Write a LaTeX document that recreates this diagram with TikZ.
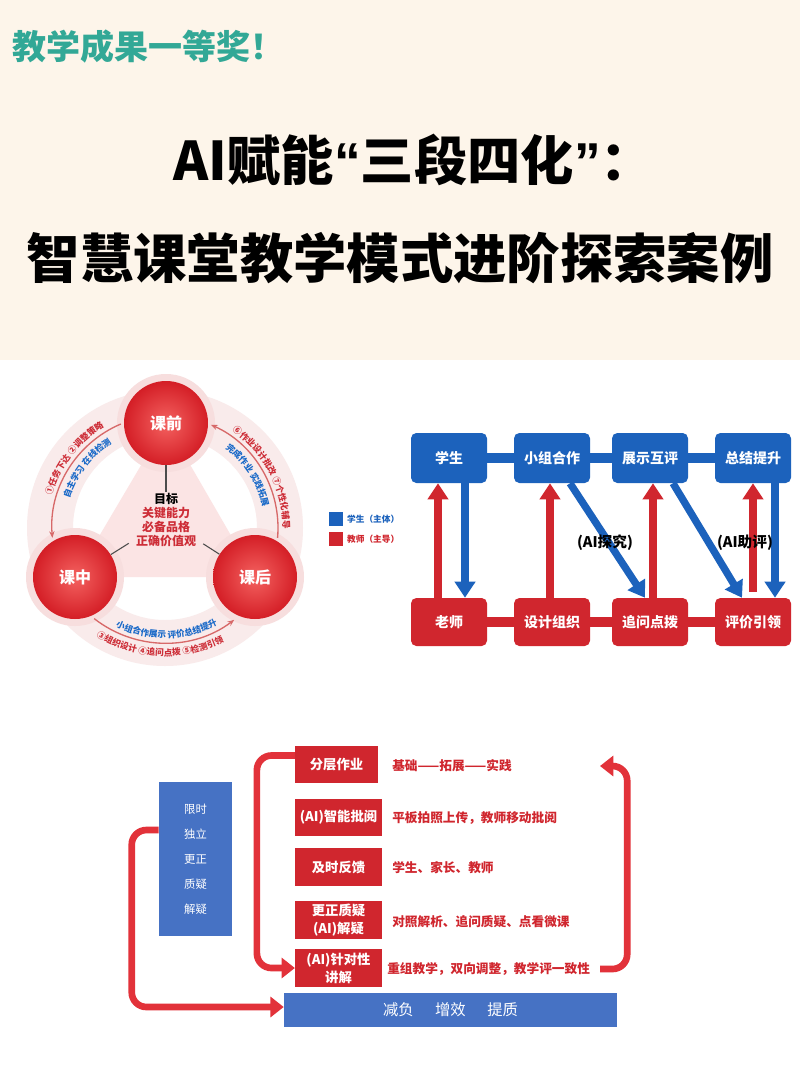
\documentclass[tikz,border=0pt]{standalone}
\usepackage{fontspec}
\setmainfont{Noto Sans CJK SC}
\newfontfamily\quotefont{Liberation Sans}
\usetikzlibrary{arrows.meta,positioning,calc,decorations.text}
\definecolor{creamcol}{RGB}{253,245,234}
\definecolor{tealcol}{RGB}{50,168,150}
\definecolor{stucol}{RGB}{28,98,188}
\definecolor{tchcol}{RGB}{208,38,46}
\definecolor{barcol}{RGB}{70,114,196}
\definecolor{loopcol}{RGB}{226,50,58}
\definecolor{ringcol}{RGB}{249,235,235}
\definecolor{tricol}{RGB}{251,228,228}
\definecolor{glowcol}{RGB}{247,222,222}
\definecolor{ballin}{RGB}{244,98,96}
\definecolor{ballout}{RGB}{212,30,38}
\definecolor{arcred}{RGB}{205,45,55}
\definecolor{arcblue}{RGB}{25,105,200}
\definecolor{arccol}{RGB}{215,105,105}
\newcommand\arcfont{\fontsize{6.5}{7}\selectfont\bfseries}

\begin{document}
\begin{tikzpicture}[x=0.75pt, y=-0.75pt,
    ball/.style={circle, minimum size=63pt, inner sep=0pt, inner color=ballin, outer color=ballout, text=white, font=\fontsize{12}{14}\selectfont\bfseries},
    goalline/.style={draw=black!70, line width=0.8pt},
    arcarrow/.style={draw=arccol, line width=1pt, -{Stealth[length=5pt, width=4pt]}},
    tbox/.style={rectangle, rounded corners=4pt, minimum width=57pt, minimum height=37.5pt, fill=stucol, text=white, font=\fontsize{10.5}{12}\selectfont\bfseries},
    bbox/.style={tbox, fill=tchcol, minimum height=36pt},
    hbar/.style={line width=7.5pt},
    fatarrow/.style={line width=5.5pt, -{Triangle[length=12pt, width=15pt]}},
    ailabel/.style={font=\fontsize{11}{13}\selectfont\bfseries},
    legsq/.style={rectangle, minimum size=10pt, inner sep=0pt},
    legtext/.style={font=\fontsize{6.5}{8}\selectfont\bfseries, inner sep=1pt},
    rbox/.style={rectangle, fill=tchcol, text=white, minimum width=65pt, minimum height=28pt, inner sep=1pt, align=center, font=\fontsize{10}{13.5}\selectfont\bfseries},
    rtext/.style={anchor=west, inner sep=0pt, text=tchcol, font=\fontsize{9.5}{11}\selectfont\bfseries},
    loopline/.style={draw=loopcol, line width=5pt, rounded corners=11pt, -{Triangle[length=10pt, width=15pt]}},
]
\useasboundingbox (0,0) rectangle (800,1067);
\fill[white] (0,0) rectangle (800,1067);
\fill[creamcol] (0,0) rectangle (800,360);

% title
\node[anchor=west, text=tealcol, font=\fontsize{25.5}{27}\selectfont\bfseries] (award) at (8,47) {教学成果一等奖！};
\node[font=\fontsize{40}{44}\selectfont\bfseries] (title) at (414,160) {AI赋能{\quotefont “}三段四化{\quotefont ”}：};
\node[font=\fontsize{40}{44}\selectfont\bfseries] (subtitle) at (400,258) {智慧课堂教学模式进阶探索案例};

% three stage cycle
\coordinate (cyc) at (165,528);
\fill[ringcol, even odd rule] (cyc) circle[radius=138] circle[radius=92];
\fill[tricol] (166,423) -- (75,577) -- (255,577) -- cycle;
\foreach \p in {(166,423), (75,577), (255,577)} {\fill[glowcol] \p circle[radius=49];}
\node[ball] (qian) at (166,423) {课前};
\node[ball] (zhong) at (75,577) {课中};
\node[ball] (hou) at (255,577) {课后};
\node[align=center, font=\fontsize{9}{10.3}\selectfont\bfseries, inner sep=1pt] (goal) at (166,520) {目标\\\textcolor{arcred}{关键能力}\\\textcolor{arcred}{必备品格}\\\textcolor{arcred}{正确价值观}};
\draw[goalline] (qian) -- (goal);
\draw[goalline, shorten >=5pt] (zhong) -- (goal);
\draw[goalline, shorten >=5pt] (hou) -- (goal);

\draw[arcarrow] ($(cyc)+(247:113)$) arc[start angle=247, end angle=175, radius=113];
\draw[arcarrow] ($(cyc)+(128:115)$) arc[start angle=128, end angle=53, radius=115];
\draw[arcarrow] ($(cyc)+(365:113)$) arc[start angle=365, end angle=294, radius=113];
\path[decorate, decoration={text along path, text align=center, text={|\arcfont\color{arcred}|①任务下达 ②调整策略}}] ($(cyc)+(190:118)$) arc[start angle=190, end angle=245, radius=118];
\path[decorate, decoration={text along path, text align=center, text={|\arcfont\color{arcblue}|自主学习 在线检测}}] ($(cyc)+(190:100)$) arc[start angle=190, end angle=245, radius=100];
\path[decorate, decoration={text along path, text align=center, text={|\arcfont\color{arcred}|⑥作业设计批改 ⑦个性化辅导}}] ($(cyc)+(300:118)$) arc[start angle=300, end angle=365, radius=118];
\path[decorate, decoration={text along path, text align=center, text={|\arcfont\color{arcblue}|完成作业 实践拓展}}] ($(cyc)+(300:100)$) arc[start angle=300, end angle=355, radius=100];
\path[decorate, decoration={text along path, text align=center, text={|\arcfont\color{arcblue}|小组合作展示 评价总结提升}}] ($(cyc)+(130:110)$) arc[start angle=130, end angle=48, radius=110];
\path[decorate, decoration={text along path, text align=center, text={|\arcfont\color{arcred}|③组织设计 ④追问点拨 ⑤检测引领}}] ($(cyc)+(135:128)$) arc[start angle=135, end angle=50, radius=128];

% student / teacher flow
\node[legsq, fill=stucol] (lgs) at (336,519) {};
\node[legtext, text=stucol, right=2pt of lgs] (lgst) {学生（主体）};
\node[legsq, fill=tchcol] (lgt) at (336,539) {};
\node[legtext, text=tchcol, right=2pt of lgt] (lgtt) {教师（主导）};

\foreach \nm/\x/\lbl in {stu/449/学生, grp/552/小组合作, disp/650/展示互评, summ/753/总结提升} {
    \node[tbox] (\nm) at (\x,458) {\lbl};
}
\foreach \nm/\x/\lbl in {tch/449/老师, des/552/设计组织, ask/650/追问点拨, eva/753/评价引领} {
    \node[bbox] (\nm) at (\x,622) {\lbl};
}
\foreach \a/\b in {stu/grp, grp/disp, disp/summ} {\draw[hbar, stucol] (\a) -- (\b);}
\foreach \a/\b in {tch/des, des/ask, ask/eva} {\draw[hbar, tchcol] (\a) -- (\b);}

\draw[fatarrow, tchcol] ($(tch.north)+(-11,0)$) -- ($(stu.south)+(-11,0)$);
\draw[fatarrow, stucol] ($(stu.south)+(16,0)$) -- ($(tch.north)+(16,0)$);
\draw[fatarrow, tchcol] ($(des.north)+(-2,0)$) -- ($(grp.south)+(-2,0)$);
\draw[fatarrow, stucol] ($(grp.south)+(18,0)$) -- ($(ask.north)+(-5,0)$);
\draw[fatarrow, tchcol] ($(ask.north)+(3,0)$) -- ($(disp.south)+(3,0)$);
\draw[fatarrow, stucol] ($(disp.south)+(23,0)$) -- ($(eva.north)+(-11,0)$);
\draw[fatarrow, tchcol] ($(eva.north)+(0,-6)$) -- (summ.south);
\draw[fatarrow, stucol] ($(summ.south)+(22,0)$) -- ($(eva.north)+(22,0)$);
\node[ailabel] (aiq) at (605,543) {(AI探究)};
\node[ailabel] (aip) at (745,543) {(AI助评)};

% homework loop
\node[rbox, minimum width=62pt] (layer) at (336.5,764.5) {分层作业};
\node[rbox] (mark) at (338.5,817.5) {(AI)智能批阅};
\node[rbox] (feed) at (338.5,867) {及时反馈};
\node[rbox] (fix) at (338.5,920) {更正质疑\\(AI)解疑};
\node[rbox] (talk) at (338.5,968) {(AI)针对性\\讲解};
\node[rtext] (layert) at (392,766) {基础——拓展——实践};
\node[rtext] (markt) at (392,818) {平板拍照上传，教师移动批阅};
\node[rtext] (feedt) at (392,868) {学生、家长、教师};
\node[rtext] (fixt) at (392,922) {对照解析、追问质疑、点看微课};
\node[rtext] (talkt) at (387,969) {重组教学，双向调整，教学评一致性};
\node[rectangle, fill=barcol, text=white, minimum width=54.75pt, minimum height=115.5pt, align=center, font=\fontsize{8.5}{18.75}\selectfont] (steps) at (195.5,859) {限时\\独立\\更正\\质疑\\解疑};
\node[rectangle, fill=barcol, text=white, minimum width=249.75pt, minimum height=25.5pt, font=\fontsize{11.5}{13}\selectfont] (gain) at (450.5,1010) {减负\hspace{1.4em}增效\hspace{1.4em}提质};

\coordinate (back) at (600,766);
\draw[loopline] ($(layer.west)+(0,-9)$) -- ++(-38,0) |- (talk.west);
\draw[loopline] ($(talkt.east)+(10,0)$) -- ++(27,0) |- (back);
\draw[loopline] ($(steps.west)+(0,-29)$) -- ++(-27,0) |- ($(gain.west)+(0,-3)$);
\end{tikzpicture}
\end{document}
